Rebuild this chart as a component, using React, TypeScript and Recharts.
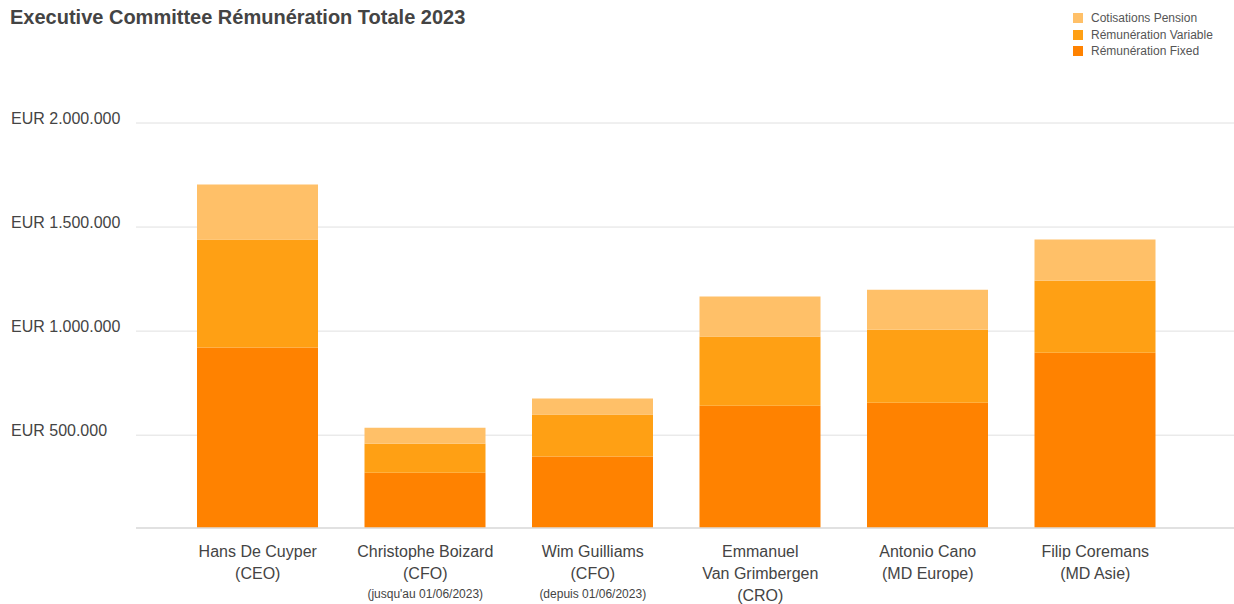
import React from 'react';
import { BarChart, Bar, XAxis, YAxis, CartesianGrid } from 'recharts';

const names = [
  ['Hans De Cuyper'],
  ['Christophe Boizard'],
  ['Wim Guilliams'],
  ['Emmanuel', 'Van Grimbergen'],
  ['Antonio Cano'],
  ['Filip Coremans'],
];
const roles = ['(CEO)', '(CFO)', '(CFO)', '(CRO)', '(MD Europe)', '(MD Asie)'];
const notes = ['', "(jusqu'au 01/06/2023)", '(depuis 01/06/2023)', '', '', ''];

const fixed = [921000, 320000, 397000, 642000, 656000, 896000];
const variable = [519000, 139000, 202000, 332000, 351000, 346000];
const pension = [264000, 77000, 77000, 192000, 192000, 198000];

const yTicks = [500000, 1000000, 1500000, 2000000];

const series = [
  { key: 'pension', name: 'Cotisations Pension', color: '#FFC068' },
  { key: 'variable', name: 'Rémunération Variable', color: '#FFA014' },
  { key: 'fixed', name: 'Rémunération Fixed', color: '#FF8200' },
];

const data = names.map((n, i) => ({
  name: n.join(' '),
  fixed: fixed[i],
  variable: variable[i],
  pension: pension[i],
}));

const fmtEur = (v: number) => 'EUR ' + v.toLocaleString('de-DE');

const YTick = (props: any) => {
  const { y, payload } = props;
  return (
    <text x={11} y={y + 1} textAnchor="start" fontSize={16} fill="#444">
      {fmtEur(payload.value)}
    </text>
  );
};

const XTick = (props: any) => {
  const { x, y, payload } = props;
  const i = payload.index;
  const lines = [...names[i], roles[i]];
  return (
    <g transform={`translate(${x},${y})`}>
      {lines.map((l, k) => (
        <text key={k} x={0} y={29 + k * 22} textAnchor="middle" fontSize={16} fill="#444">
          {l}
        </text>
      ))}
      {notes[i] && (
        <text x={0} y={70} textAnchor="middle" fontSize={12} fill="#444">
          {notes[i]}
        </text>
      )}
    </g>
  );
};

const App: React.FC = () => {
  return (
    <div
      style={{
        position: 'absolute',
        left: 0,
        top: 0,
        width: 1234,
        height: 604,
        background: '#fff',
        fontFamily: '"Liberation Sans", Arial, sans-serif',
      }}
    >
      <div
        style={{
          position: 'absolute',
          left: 10,
          top: 6,
          fontSize: 20,
          lineHeight: '23px',
          fontWeight: 'bold',
          color: '#444',
        }}
      >
        Executive Committee Rémunération Totale 2023
      </div>
      <div style={{ position: 'absolute', left: 1073, top: 10, fontSize: 12, color: '#555' }}>
        {series.map(s => (
          <div key={s.key} style={{ display: 'flex', alignItems: 'center', height: 16.4 }}>
            <span style={{ width: 10, height: 10, background: s.color, marginRight: 8, flexShrink: 0 }} />
            <span>{s.name}</span>
          </div>
        ))}
      </div>
      <BarChart
        width={1234}
        height={604}
        data={data}
        margin={{ top: 123, right: 0, bottom: 0, left: 0 }}
        style={{ position: 'absolute', left: 0, top: 0 }}
      >
        <CartesianGrid vertical={false} stroke="#e0e0e0" />
        <XAxis
          dataKey="name"
          interval={0}
          tickLine={false}
          tickSize={0}
          tickMargin={0}
          axisLine={{ stroke: '#dcdcdc', strokeWidth: 1.5 }}
          padding={{ left: 38, right: 55 }}
          tick={<XTick />}
          height={76}
        />
        <YAxis
          width={136}
          domain={[54000, 2000000]}
          allowDataOverflow
          ticks={yTicks}
          axisLine={false}
          tickLine={false}
          tick={<YTick />}
        />
        <Bar dataKey="fixed" stackId="a" fill="#FF8200" barSize={121} isAnimationActive={false} />
        <Bar dataKey="variable" stackId="a" fill="#FFA014" barSize={121} isAnimationActive={false} />
        <Bar dataKey="pension" stackId="a" fill="#FFC068" barSize={121} isAnimationActive={false} />
      </BarChart>
    </div>
  );
};

export default App;
